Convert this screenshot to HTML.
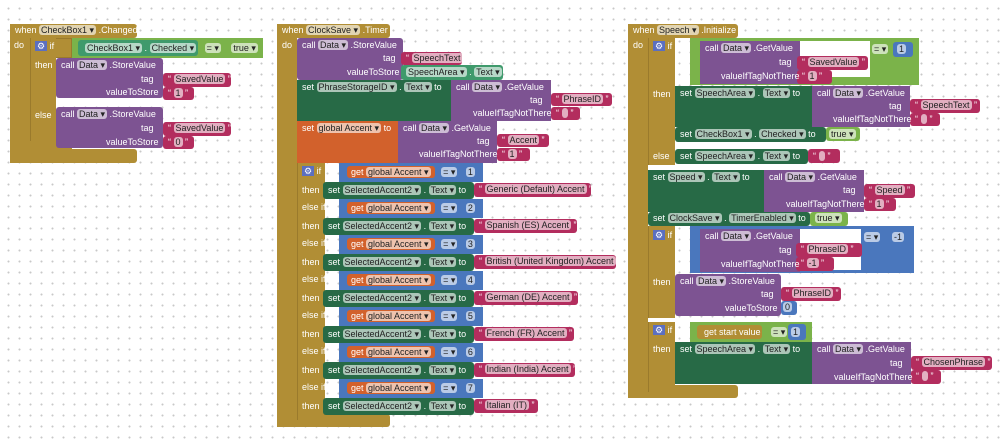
<!DOCTYPE html>
<html><head><meta charset="utf-8"><style>
body{margin:0;width:1000px;height:447px;overflow:hidden;background-color:#fff;background-image:radial-gradient(circle,#c8c8c8 0.8px,transparent 1.2px);background-size:11px 11px;background-position:3px 3px;font-family:"Liberation Sans",sans-serif;}
div{position:absolute;box-sizing:border-box}
.g{background:#b18e35}.pu{background:#7d5392}.dg{background:#276a46}.tl{background:#3f9a6c}.pk{background:#b32d5e}.or{background:#d2612c}.bl{background:#4a77bd}.gr{background:#7bb34a}.wh{background:#fff}
.t{color:#fff;font-size:9px;line-height:13px;white-space:nowrap;z-index:5}
.p{background:rgba(255,255,255,.62);color:#222;border-radius:3px;padding:0 2px}
.r{border-radius:3px}
</style></head><body>

<!-- LEFT -->
<div class="g r" style="left:10px;top:24px;width:127px;height:14px"></div>
<div class="t" style="left:15px;top:24px">when <span class="p">CheckBox1 ▾</span> .Changed</div>
<div class="g" style="left:10px;top:24px;width:20px;height:139px"></div>
<div class="g r" style="left:10px;top:149px;width:127px;height:14px"></div>
<div class="t" style="left:14px;top:39px">do</div>
<div class="g" style="left:30px;top:38px;width:42px;height:20px;border:1px solid #9a7a2c"></div>
<div class="g" style="left:30px;top:38px;width:26px;height:116px;border-left:1px solid #9a7a2c"></div>
<div class="g" style="left:30px;top:141px;width:42px;height:13px"></div>
<div class="t" style="left:35px;top:40px"><span style="background:#5b6fc0;padding:0 2px">⚙</span> if</div>
<div class="t" style="left:35px;top:59px">then</div>
<div class="t" style="left:35px;top:109px">else</div>
<div class="gr" style="left:72px;top:38px;width:191px;height:20px"></div>
<div class="tl r" style="left:78px;top:40px;width:120px;height:16px"></div>
<div class="t" style="left:85px;top:42px"><span class="p">CheckBox1 ▾</span> . <span class="p">Checked ▾</span> <span class="p" style="margin-left:6px">= ▾</span> <span class="p" style="margin-left:8px">true ▾</span></div>
<div class="pu r" style="left:56px;top:58px;width:107px;height:40px"></div>
<div class="t" style="left:61px;top:59px">call <span class="p">Data ▾</span> .StoreValue</div>
<div class="t" style="left:141px;top:73px">tag</div>
<div class="t" style="left:106px;top:86px">valueToStore</div>
<div class="pk r" style="left:163px;top:73px;width:68px;height:14px"></div>
<div class="t" style="left:168px;top:73px">“ <span class="p">SavedValue</span> ”</div>
<div class="pk r" style="left:163px;top:87px;width:31px;height:13px"></div>
<div class="t" style="left:168px;top:87px">“ <span class="p">1</span> ”</div>
<div class="pu r" style="left:56px;top:107px;width:107px;height:41px"></div>
<div class="t" style="left:61px;top:108px">call <span class="p">Data ▾</span> .StoreValue</div>
<div class="t" style="left:141px;top:122px">tag</div>
<div class="t" style="left:106px;top:136px">valueToStore</div>
<div class="pk r" style="left:163px;top:122px;width:68px;height:14px"></div>
<div class="t" style="left:168px;top:122px">“ <span class="p">SavedValue</span> ”</div>
<div class="pk r" style="left:163px;top:136px;width:31px;height:13px"></div>
<div class="t" style="left:168px;top:136px">“ <span class="p">0</span> ”</div>

<!-- MIDDLE -->
<div class="g r" style="left:277px;top:24px;width:113px;height:14px"></div>
<div class="t" style="left:282px;top:24px">when <span class="p">ClockSave ▾</span> .Timer</div>
<div class="g" style="left:277px;top:24px;width:20px;height:403px"></div>
<div class="g r" style="left:277px;top:414px;width:113px;height:13px"></div>
<div class="t" style="left:282px;top:39px">do</div>
<div class="pu r" style="left:297px;top:38px;width:106px;height:42px"></div>
<div class="t" style="left:302px;top:39px">call <span class="p">Data ▾</span> .StoreValue</div>
<div class="t" style="left:383px;top:52px">tag</div>
<div class="t" style="left:347px;top:66px">valueToStore</div>
<div class="pk r" style="left:401px;top:52px;width:61px;height:13px"></div>
<div class="t" style="left:406px;top:52px">“ <span class="p">SpeechText</span> ”</div>
<div class="tl r" style="left:401px;top:65px;width:102px;height:15px"></div>
<div class="t" style="left:406px;top:66px"><span class="p">SpeechArea ▾</span> . <span class="p">Text ▾</span></div>
<div class="dg" style="left:297px;top:80px;width:154px;height:41px"></div>
<div class="t" style="left:302px;top:81px">set <span class="p">PhraseStorageID ▾</span> . <span class="p">Text ▾</span> to</div>
<div class="pu" style="left:451px;top:80px;width:100px;height:41px"></div>
<div class="t" style="left:456px;top:81px">call <span class="p">Data ▾</span> .GetValue</div>
<div class="t" style="left:530px;top:94px">tag</div>
<div class="t" style="left:473px;top:107px">valueIfTagNotThere</div>
<div class="pk r" style="left:551px;top:93px;width:61px;height:13px"></div>
<div class="t" style="left:556px;top:93px">“ <span class="p">PhraseID</span> ”</div>
<div class="pk r" style="left:551px;top:107px;width:29px;height:13px"></div>
<div class="t" style="left:556px;top:107px">“ <span class="p">&nbsp;</span> ”</div>
<div class="or" style="left:297px;top:121px;width:101px;height:42px"></div>
<div class="t" style="left:302px;top:122px">set <span class="p">global Accent ▾</span> to</div>
<div class="pu" style="left:398px;top:121px;width:99px;height:42px"></div>
<div class="t" style="left:403px;top:122px">call <span class="p">Data ▾</span> .GetValue</div>
<div class="t" style="left:477px;top:135px">tag</div>
<div class="t" style="left:419px;top:148px">valueIfTagNotThere</div>
<div class="pk r" style="left:497px;top:134px;width:52px;height:13px"></div>
<div class="t" style="left:502px;top:134px">“ <span class="p">Accent</span> ”</div>
<div class="pk r" style="left:497px;top:148px;width:33px;height:13px"></div>
<div class="t" style="left:502px;top:148px">“ <span class="p">1</span> ”</div>
<div class="g" style="left:297px;top:163px;width:28px;height:257px;border-left:1px solid #9a7a2c"></div>
<div class="t" style="left:302px;top:165px"><span style="background:#5b6fc0;padding:0 2px">⚙</span> if</div>

<div class="bl" style="left:339px;top:163px;width:144px;height:19px"></div>
<div class="t" style="left:347px;top:166px"><span class="or" style="position:static;padding:1px 4px;border-radius:3px">get <span class="p">global Accent ▾</span></span> <span class="p" style="margin-left:4px">= ▾</span> <span class="p" style="margin-left:6px">1</span></div>
<div class="t" style="left:302px;top:184px">then</div>
<div class="dg r" style="left:323px;top:182px;width:151px;height:17px"></div>
<div class="t" style="left:328px;top:184px">set <span class="p">SelectedAccent2 ▾</span> . <span class="p">Text ▾</span> to</div>
<div class="pk r" style="left:474px;top:183px;width:117px;height:14px"></div>
<div class="t" style="left:479px;top:183px">“ <span class="p">Generic (Default) Accent</span> ”</div>

<div class="t" style="left:302px;top:201px">else if</div>
<div class="bl" style="left:339px;top:199px;width:144px;height:19px"></div>
<div class="t" style="left:347px;top:202px"><span class="or" style="position:static;padding:1px 4px;border-radius:3px">get <span class="p">global Accent ▾</span></span> <span class="p" style="margin-left:4px">= ▾</span> <span class="p" style="margin-left:6px">2</span></div>
<div class="t" style="left:302px;top:220px">then</div>
<div class="dg r" style="left:323px;top:218px;width:151px;height:17px"></div>
<div class="t" style="left:328px;top:220px">set <span class="p">SelectedAccent2 ▾</span> . <span class="p">Text ▾</span> to</div>
<div class="pk r" style="left:474px;top:219px;width:103px;height:14px"></div>
<div class="t" style="left:479px;top:219px">“ <span class="p">Spanish (ES) Accent</span> ”</div>

<div class="t" style="left:302px;top:237px">else if</div>
<div class="bl" style="left:339px;top:235px;width:144px;height:19px"></div>
<div class="t" style="left:347px;top:238px"><span class="or" style="position:static;padding:1px 4px;border-radius:3px">get <span class="p">global Accent ▾</span></span> <span class="p" style="margin-left:4px">= ▾</span> <span class="p" style="margin-left:6px">3</span></div>
<div class="t" style="left:302px;top:256px">then</div>
<div class="dg r" style="left:323px;top:254px;width:151px;height:17px"></div>
<div class="t" style="left:328px;top:256px">set <span class="p">SelectedAccent2 ▾</span> . <span class="p">Text ▾</span> to</div>
<div class="pk r" style="left:474px;top:255px;width:142px;height:14px"></div>
<div class="t" style="left:479px;top:255px">“ <span class="p">British (United Kingdom) Accent</span> ”</div>

<div class="t" style="left:302px;top:273px">else if</div>
<div class="bl" style="left:339px;top:271px;width:144px;height:19px"></div>
<div class="t" style="left:347px;top:274px"><span class="or" style="position:static;padding:1px 4px;border-radius:3px">get <span class="p">global Accent ▾</span></span> <span class="p" style="margin-left:4px">= ▾</span> <span class="p" style="margin-left:6px">4</span></div>
<div class="t" style="left:302px;top:292px">then</div>
<div class="dg r" style="left:323px;top:290px;width:151px;height:17px"></div>
<div class="t" style="left:328px;top:292px">set <span class="p">SelectedAccent2 ▾</span> . <span class="p">Text ▾</span> to</div>
<div class="pk r" style="left:474px;top:291px;width:104px;height:14px"></div>
<div class="t" style="left:479px;top:291px">“ <span class="p">German (DE) Accent</span> ”</div>

<div class="t" style="left:302px;top:309px">else if</div>
<div class="bl" style="left:339px;top:307px;width:144px;height:19px"></div>
<div class="t" style="left:347px;top:310px"><span class="or" style="position:static;padding:1px 4px;border-radius:3px">get <span class="p">global Accent ▾</span></span> <span class="p" style="margin-left:4px">= ▾</span> <span class="p" style="margin-left:6px">5</span></div>
<div class="t" style="left:302px;top:328px">then</div>
<div class="dg r" style="left:323px;top:326px;width:151px;height:17px"></div>
<div class="t" style="left:328px;top:328px">set <span class="p">SelectedAccent2 ▾</span> . <span class="p">Text ▾</span> to</div>
<div class="pk r" style="left:474px;top:327px;width:100px;height:14px"></div>
<div class="t" style="left:479px;top:327px">“ <span class="p">French (FR) Accent</span> ”</div>

<div class="t" style="left:302px;top:345px">else if</div>
<div class="bl" style="left:339px;top:343px;width:144px;height:19px"></div>
<div class="t" style="left:347px;top:346px"><span class="or" style="position:static;padding:1px 4px;border-radius:3px">get <span class="p">global Accent ▾</span></span> <span class="p" style="margin-left:4px">= ▾</span> <span class="p" style="margin-left:6px">6</span></div>
<div class="t" style="left:302px;top:364px">then</div>
<div class="dg r" style="left:323px;top:362px;width:151px;height:17px"></div>
<div class="t" style="left:328px;top:364px">set <span class="p">SelectedAccent2 ▾</span> . <span class="p">Text ▾</span> to</div>
<div class="pk r" style="left:474px;top:363px;width:101px;height:14px"></div>
<div class="t" style="left:479px;top:363px">“ <span class="p">Indian (India) Accent</span> ”</div>

<div class="t" style="left:302px;top:381px">else if</div>
<div class="bl" style="left:339px;top:379px;width:144px;height:19px"></div>
<div class="t" style="left:347px;top:382px"><span class="or" style="position:static;padding:1px 4px;border-radius:3px">get <span class="p">global Accent ▾</span></span> <span class="p" style="margin-left:4px">= ▾</span> <span class="p" style="margin-left:6px">7</span></div>
<div class="t" style="left:302px;top:400px">then</div>
<div class="dg r" style="left:323px;top:398px;width:151px;height:17px"></div>
<div class="t" style="left:328px;top:400px">set <span class="p">SelectedAccent2 ▾</span> . <span class="p">Text ▾</span> to</div>
<div class="pk r" style="left:474px;top:399px;width:64px;height:14px"></div>
<div class="t" style="left:479px;top:399px">“ <span class="p">Italian (IT)</span> ”</div>

<!-- RIGHT -->
<div class="g r" style="left:628px;top:24px;width:110px;height:14px"></div>
<div class="t" style="left:633px;top:24px">when <span class="p">Speech ▾</span> .Initialize</div>
<div class="g" style="left:628px;top:24px;width:20px;height:374px"></div>
<div class="g r" style="left:628px;top:385px;width:110px;height:13px"></div>
<div class="t" style="left:633px;top:39px">do</div>
<div class="g" style="left:648px;top:38px;width:27px;height:127px;border-left:1px solid #9a7a2c"></div>
<div class="t" style="left:653px;top:40px"><span style="background:#5b6fc0;padding:0 2px">⚙</span> if</div>
<div class="t" style="left:653px;top:88px">then</div>
<div class="t" style="left:653px;top:150px">else</div>
<div class="gr" style="left:690px;top:38px;width:229px;height:47px"></div>
<div class="pu" style="left:700px;top:41px;width:100px;height:43px"></div>
<div class="wh" style="left:800px;top:41px;width:70px;height:36px"></div>
<div class="t" style="left:705px;top:42px">call <span class="p">Data ▾</span> .GetValue</div>
<div class="t" style="left:779px;top:56px">tag</div>
<div class="t" style="left:721px;top:70px">valueIfTagNotThere</div>
<div class="pk r" style="left:797px;top:56px;width:71px;height:14px"></div>
<div class="t" style="left:802px;top:56px">“ <span class="p">SavedValue</span> ”</div>
<div class="pk r" style="left:797px;top:70px;width:35px;height:14px"></div>
<div class="t" style="left:802px;top:70px">“ <span class="p">1</span> ”</div>
<div class="t" style="left:872px;top:43px"><span class="p">= ▾</span></div>
<div class="bl r" style="left:893px;top:42px;width:20px;height:15px"></div>
<div class="t" style="left:897px;top:43px"><span class="p">1</span></div>
<div class="dg" style="left:675px;top:86px;width:137px;height:41px"></div>
<div class="t" style="left:680px;top:87px">set <span class="p">SpeechArea ▾</span> . <span class="p">Text ▾</span> to</div>
<div class="pu" style="left:812px;top:86px;width:98px;height:41px"></div>
<div class="t" style="left:817px;top:87px">call <span class="p">Data ▾</span> .GetValue</div>
<div class="t" style="left:889px;top:100px">tag</div>
<div class="t" style="left:833px;top:113px">valueIfTagNotThere</div>
<div class="pk r" style="left:910px;top:99px;width:70px;height:14px"></div>
<div class="t" style="left:915px;top:99px">“ <span class="p">SpeechText</span> ”</div>
<div class="pk r" style="left:910px;top:113px;width:30px;height:13px"></div>
<div class="t" style="left:915px;top:113px">“ <span class="p">&nbsp;</span> ”</div>
<div class="dg r" style="left:675px;top:127px;width:151px;height:15px"></div>
<div class="t" style="left:680px;top:128px">set <span class="p">CheckBox1 ▾</span> . <span class="p">Checked ▾</span> to</div>
<div class="gr r" style="left:826px;top:127px;width:34px;height:14px"></div>
<div class="t" style="left:829px;top:128px"><span class="p">true ▾</span></div>
<div class="dg r" style="left:675px;top:149px;width:133px;height:15px"></div>
<div class="t" style="left:680px;top:150px">set <span class="p">SpeechArea ▾</span> . <span class="p">Text ▾</span> to</div>
<div class="pk r" style="left:808px;top:149px;width:32px;height:14px"></div>
<div class="t" style="left:813px;top:150px">“ <span class="p">&nbsp;</span> ”</div>
<div class="dg" style="left:648px;top:170px;width:116px;height:42px"></div>
<div class="t" style="left:653px;top:171px">set <span class="p">Speed ▾</span> . <span class="p">Text ▾</span> to</div>
<div class="pu" style="left:764px;top:170px;width:100px;height:42px"></div>
<div class="t" style="left:769px;top:171px">call <span class="p">Data ▾</span> .GetValue</div>
<div class="t" style="left:843px;top:184px">tag</div>
<div class="t" style="left:786px;top:198px">valueIfTagNotThere</div>
<div class="pk r" style="left:864px;top:184px;width:51px;height:14px"></div>
<div class="t" style="left:869px;top:184px">“ <span class="p">Speed</span> ”</div>
<div class="pk r" style="left:864px;top:198px;width:32px;height:13px"></div>
<div class="t" style="left:869px;top:198px">“ <span class="p">1</span> ”</div>
<div class="dg r" style="left:648px;top:212px;width:162px;height:14px"></div>
<div class="t" style="left:653px;top:212px">set <span class="p">ClockSave ▾</span> . <span class="p">TimerEnabled ▾</span> to</div>
<div class="gr r" style="left:810px;top:212px;width:38px;height:14px"></div>
<div class="t" style="left:815px;top:212px"><span class="p">true ▾</span></div>

<div class="g" style="left:648px;top:226px;width:27px;height:92px;border-left:1px solid #9a7a2c"></div>
<div class="t" style="left:653px;top:229px"><span style="background:#5b6fc0;padding:0 2px">⚙</span> if</div>
<div class="t" style="left:653px;top:276px">then</div>
<div class="bl" style="left:690px;top:226px;width:224px;height:47px"></div>
<div class="pu" style="left:700px;top:229px;width:100px;height:43px"></div>
<div class="wh" style="left:800px;top:229px;width:61px;height:41px"></div>
<div class="t" style="left:705px;top:230px">call <span class="p">Data ▾</span> .GetValue</div>
<div class="t" style="left:779px;top:244px">tag</div>
<div class="t" style="left:721px;top:258px">valueIfTagNotThere</div>
<div class="pk r" style="left:796px;top:243px;width:66px;height:14px"></div>
<div class="t" style="left:801px;top:243px">“ <span class="p">PhraseID</span> ”</div>
<div class="pk r" style="left:796px;top:257px;width:38px;height:14px"></div>
<div class="t" style="left:801px;top:257px">“ <span class="p">-1</span> ”</div>
<div class="t" style="left:864px;top:231px"><span class="p">= ▾</span></div>
<div class="t" style="left:892px;top:231px"><span class="p">-1</span></div>
<div class="pu r" style="left:675px;top:274px;width:106px;height:42px"></div>
<div class="t" style="left:680px;top:275px">call <span class="p">Data ▾</span> .StoreValue</div>
<div class="t" style="left:761px;top:288px">tag</div>
<div class="t" style="left:725px;top:302px">valueToStore</div>
<div class="pk r" style="left:781px;top:287px;width:60px;height:14px"></div>
<div class="t" style="left:786px;top:287px">“ <span class="p">PhraseID</span> ”</div>
<div class="bl r" style="left:781px;top:301px;width:16px;height:14px"></div>
<div class="t" style="left:783px;top:301px"><span class="p">0</span></div>

<div class="g" style="left:648px;top:322px;width:27px;height:70px;border-left:1px solid #9a7a2c"></div>
<div class="t" style="left:653px;top:324px"><span style="background:#5b6fc0;padding:0 2px">⚙</span> if</div>
<div class="t" style="left:653px;top:343px">then</div>
<div class="gr" style="left:690px;top:322px;width:122px;height:20px"></div>
<div class="g r" style="left:697px;top:325px;width:65px;height:14px"></div>
<div class="t" style="left:704px;top:326px">get start value <span class="p" style="margin-left:8px">= ▾</span></div>
<div class="bl r" style="left:788px;top:324px;width:18px;height:16px"></div>
<div class="t" style="left:791px;top:326px"><span class="p">1</span></div>
<div class="dg" style="left:675px;top:342px;width:137px;height:42px"></div>
<div class="t" style="left:680px;top:343px">set <span class="p">SpeechArea ▾</span> . <span class="p">Text ▾</span> to</div>
<div class="pu" style="left:812px;top:342px;width:99px;height:42px"></div>
<div class="t" style="left:817px;top:343px">call <span class="p">Data ▾</span> .GetValue</div>
<div class="t" style="left:890px;top:357px">tag</div>
<div class="t" style="left:834px;top:371px">valueIfTagNotThere</div>
<div class="pk r" style="left:911px;top:356px;width:81px;height:14px"></div>
<div class="t" style="left:916px;top:356px">“ <span class="p">ChosenPhrase</span> ”</div>
<div class="pk r" style="left:911px;top:370px;width:30px;height:14px"></div>
<div class="t" style="left:916px;top:370px">“ <span class="p">&nbsp;</span> ”</div>
</body></html>
